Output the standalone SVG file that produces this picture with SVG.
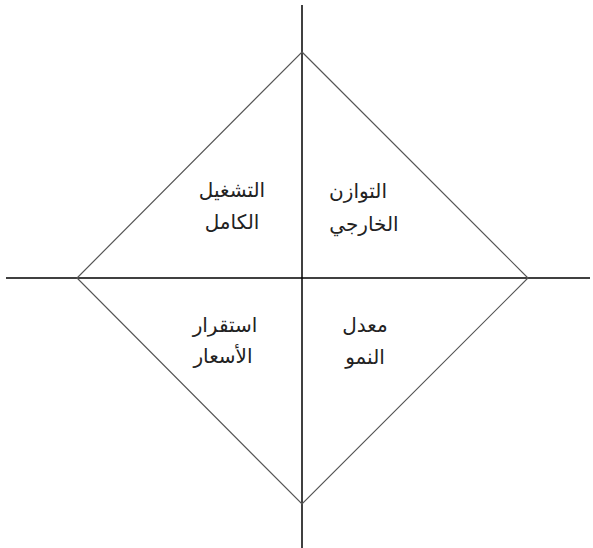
<svg xmlns="http://www.w3.org/2000/svg" width="593" height="548" viewBox="0 0 593 548">
<style>
.ax{stroke:#000;stroke-width:1.5;fill:none}
.dm{stroke:#555;stroke-width:1.2;fill:none}
text{font-family:"DejaVu Sans","Noto Sans",sans-serif;font-size:20px;fill:#222;text-anchor:middle}
</style>
<rect width="593" height="548" fill="#fff"/>
<g id="connectors">
<line class="ax" x1="302" y1="5" x2="302" y2="548"/>
<line class="ax" x1="6" y1="278" x2="590" y2="278"/>
<polygon class="dm" points="302,52 528,278 302,504 77,278"/>
</g>
<g id="q1"><text direction="rtl" x="232" y="197">التشغيل</text><text direction="rtl" x="232" y="229">الكامل</text></g>
<g id="q2"><text direction="rtl" x="358" y="198">التوازن</text><text direction="rtl" x="364" y="231">الخارجي</text></g>
<g id="q3"><text direction="rtl" x="225" y="332">استقرار</text><text direction="rtl" x="223" y="363">الأسعار</text></g>
<g id="q4"><text direction="rtl" x="365" y="332">معدل</text><text direction="rtl" x="365" y="364">النمو</text></g>
</svg>
